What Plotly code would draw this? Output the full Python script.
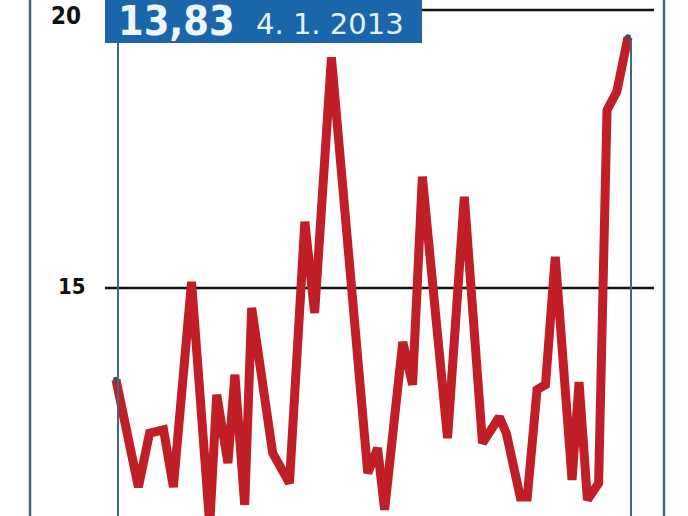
import plotly.graph_objects as go

# Data
dates = [
    "2012-01-04", "2012-01-20", "2012-01-28", "2012-02-07", "2012-02-14",
    "2012-02-27", "2012-03-11", "2012-03-16", "2012-03-24", "2012-03-29",
    "2012-04-05", "2012-04-10", "2012-04-25", "2012-05-07", "2012-05-18",
    "2012-05-25", "2012-06-06", "2012-07-02", "2012-07-09", "2012-07-14",
    "2012-07-27", "2012-08-03", "2012-08-10", "2012-08-28", "2012-09-09",
    "2012-09-22", "2012-10-04", "2012-10-09", "2012-10-19", "2012-10-24",
    "2012-10-31", "2012-11-06", "2012-11-13", "2012-11-25", "2012-11-30",
    "2012-12-06", "2012-12-14", "2012-12-20", "2012-12-27", "2013-01-04",
]
values = [
    13.35, 11.42, 12.39, 12.45, 11.42,
    15.11, 10.74, 13.08, 11.85, 13.44,
    11.10, 14.64, 12.03, 11.49, 16.19,
    14.55, 19.15, 11.67, 12.12, 11.01,
    14.03, 13.26, 17.00, 12.30, 16.64,
    12.21, 12.68, 12.39, 11.24, 11.24,
    13.17, 13.26, 15.56, 11.55, 13.31,
    11.19, 11.49, 18.20, 18.53, 19.51,
]
tick_values = [15, 20]
tick_labels = ["15", "20"]
headline_value = "13,83"
headline_date = "4. 1. 2013"

RED = "#c01f27"
BLUE = "#1b66ab"
FRAME = "#3e6b77"

fig = go.Figure()
fig.add_trace(go.Scatter(
    x=dates, y=values, mode="lines",
    line=dict(color=RED, width=9, shape="linear"),
    hoverinfo="skip", showlegend=False,
))
# end markers
fig.add_trace(go.Scatter(
    x=[dates[0], dates[-1]], y=[values[0], values[-1]], mode="markers",
    marker=dict(color="#4a4a6a", size=6), hoverinfo="skip", showlegend=False,
))

W, H = 688, 516


def px(x):
    return x / W


def py(y):
    return 1 - y / H


shapes = []
# outer frame lines
shapes.append(dict(type="line", xref="paper", yref="paper", x0=px(30), x1=px(30), y0=0, y1=1,
                   line=dict(color=FRAME, width=2.5)))
shapes.append(dict(type="line", xref="paper", yref="paper", x0=px(664), x1=px(664), y0=0, y1=1,
                   line=dict(color=FRAME, width=2.5)))
# inner vertical lines
shapes.append(dict(type="line", xref="paper", yref="paper", x0=px(118), x1=px(118), y0=0, y1=py(43),
                   line=dict(color=FRAME, width=2)))
shapes.append(dict(type="line", xref="paper", yref="paper", x0=px(631), x1=px(631), y0=0, y1=py(40),
                   line=dict(color=FRAME, width=2)))
# horizontal grid lines
shapes.append(dict(type="line", xref="paper", yref="y", x0=px(105), x1=px(654), y0=15, y1=15,
                   line=dict(color="#111111", width=2.5), layer="below"))
shapes.append(dict(type="line", xref="paper", yref="y", x0=px(420), x1=px(654), y0=20, y1=20,
                   line=dict(color="#111111", width=2.5), layer="below"))
# headline box
shapes.append(dict(type="rect", xref="paper", yref="paper", x0=px(105), x1=px(422), y0=py(43), y1=1.02,
                   fillcolor=BLUE, line=dict(width=0)))

annotations = []
for v, lab, right, size in zip(tick_values, tick_labels, [88, 83], [22, 24]):
    annotations.append(dict(
        x=px(right), xref="paper", y=v, yref="y", yshift=-6 if v == 20 else 1,
        text="<b>" + lab + "</b>", showarrow=False, xanchor="right", yanchor="middle",
        font=dict(family="DejaVu Sans Condensed", size=size, color="#111111"),
    ))
annotations.append(dict(
    x=px(116), xref="paper", y=1, yref="paper", yshift=5, text="<b>" + headline_value + "</b>",
    showarrow=False, xanchor="left", yanchor="top",
    font=dict(family="DejaVu Sans Condensed", size=41, color="#eef6fb"),
))
annotations.append(dict(
    x=px(254), xref="paper", y=1, yref="paper", yshift=-5, text=headline_date,
    showarrow=False, xanchor="left", yanchor="top",
    font=dict(family="DejaVu Sans", size=29, color="#e6f1f9"),
))

fig.update_layout(
    width=W, height=H, autosize=False,
    margin=dict(l=0, r=0, t=0, b=0, pad=0),
    paper_bgcolor="white", plot_bgcolor="white",
    xaxis=dict(range=["2011-10-13 01:55", "2013-02-15 21:21"], visible=False, fixedrange=True),
    yaxis=dict(range=[10.899, 20.18], visible=False, fixedrange=True),
    shapes=shapes, annotations=annotations, showlegend=False,
)

fig.write_html(
    "out.html",
    config={"displayModeBar": False},
    post_script="document.body.style.margin='0';document.body.style.overflow='hidden';",
)
